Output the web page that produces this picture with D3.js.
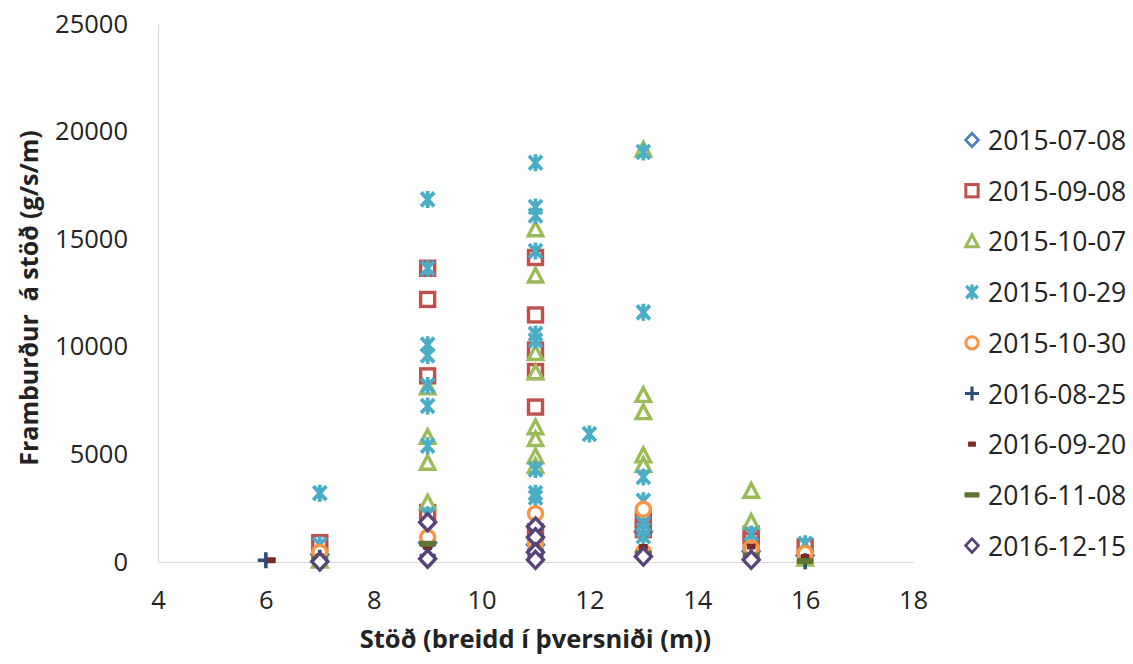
<!DOCTYPE html>
<html>
<head>
<meta charset="utf-8">
<script src="https://cdn.jsdelivr.net/npm/d3@7"></script>
<style>
  html, body { margin: 0; padding: 0; background: #ffffff; }
  svg { display: block; font-family: "Open Sans", "Noto Sans", sans-serif; }
</style>
</head>
<body>
<svg id="chart" width="1133" height="664"></svg>
<script>
// Sediment transport per station across the channel, one series per survey date
const seriesNames = ["2015-07-08", "2015-09-08", "2015-10-07", "2015-10-29", "2015-10-30",
                     "2016-08-25", "2016-09-20", "2016-11-08", "2016-12-15"];
const seriesColors = ["#4F81BD", "#C0504D", "#9BBB59", "#4BACC6", "#F79646",
                      "#2C4D75", "#772C2A", "#5F7530", "#574377"];
const seriesMarkers = ["diamond", "square", "triangle", "star", "circle",
                       "plus", "dash", "longdash", "diamond"];

// [station (m), transport (g/s/m)]
const d20150708 = [[7, 350], [9, 900], [11, 800], [13, 1400], [15, 500], [16, 300]];
const d20150908 = [[7, 900], [9, 13650], [9, 12200], [9, 8650], [9, 2300],
                   [11, 14150], [11, 11480], [11, 9850], [11, 8850], [11, 7200], [11, 1400],
                   [13, 2000], [13, 1500], [15, 1300], [15, 1000], [16, 700]];
const d20151007 = [[7, 50], [9, 8100], [9, 5800], [9, 4600], [9, 2750],
                   [11, 15450], [11, 13300], [11, 9700], [11, 8800], [11, 6250], [11, 5700],
                   [11, 4900], [11, 4450], [13, 19150], [13, 7750], [13, 6950], [13, 4950],
                   [13, 4500], [15, 3300], [15, 1850], [16, 150]];
const d20151029 = [[7, 3200], [7, 800], [9, 16850], [9, 13650], [9, 10100], [9, 9600],
                   [9, 8200], [9, 7250], [9, 5400], [9, 2200],
                   [11, 18550], [11, 16500], [11, 16100], [11, 14450], [11, 10600], [11, 10300],
                   [11, 4300], [11, 3200], [11, 3000], [12, 5950],
                   [13, 19050], [13, 11600], [13, 3950], [13, 2850], [13, 1800], [13, 1500],
                   [13, 1200], [15, 1300], [16, 850]];
const d20151030 = [[7, 450], [9, 1150], [11, 2250], [11, 900], [13, 2450], [13, 450],
                   [15, 650], [16, 400]];
const d20160825 = [[6, 80], [7, 200], [9, 300], [11, 300], [13, 300], [15, 200], [16, 30]];
const d20160920 = [[6.1, 80], [7, 250], [9, 700], [11, 700], [13, 700], [15, 720], [16, 230]];
const d20161108 = [[7, 150], [9, 850], [11, 500], [13, 400], [15, 300], [16, 50]];
const d20161215 = [[7, 20], [9, 1850], [9, 150], [11, 1650], [11, 1150], [11, 450], [11, 100],
                   [13, 250], [15, 100]];

const seriesData = [d20150708, d20150908, d20151007, d20151029, d20151030,
                    d20160825, d20160920, d20161108, d20161215];

const xTicks = [4, 6, 8, 10, 12, 14, 16, 18];
const yTicks = [0, 5000, 10000, 15000, 20000, 25000];

const xTitle = "Stöð (breidd í þversniði (m))";
const yTitle = "Framburður  á stöð (g/s/m)";

const svg = d3.select("#chart");

const plot = { left: 158, right: 913, top: 24, bottom: 562 };

const x = d3.scaleLinear().domain([4, 18]).range([plot.left, plot.right]);
const y = d3.scaleLinear().domain([0, 25000]).range([plot.bottom, plot.top]);

// Axes: thin grey lines, no tick marks
const xAxis = d3.axisBottom(x).tickValues(xTicks).tickSize(0).tickPadding(29);
const yAxis = d3.axisLeft(y).tickValues(yTicks).tickSize(0).tickPadding(30).tickFormat(d3.format("d"));

const gx = svg.append("g").attr("transform", `translate(0,${plot.bottom})`).call(xAxis);
const gy = svg.append("g").attr("transform", `translate(${plot.left},0)`).call(yAxis);

[gx, gy].forEach(g => {
  g.select(".domain").attr("stroke", "#d9d9d9").attr("stroke-width", 1);
  g.selectAll("text").attr("font-size", 25.5).attr("fill", "#222").attr("font-family", "'Open Sans', sans-serif");
});
gx.selectAll("text").attr("dy", "0.71em");

// Axis titles
svg.append("text")
  .attr("x", (plot.left + plot.right) / 2)
  .attr("y", 641)
  .attr("text-anchor", "middle")
  .attr("dominant-baseline", "middle")
  .attr("font-size", 25.5)
  .attr("font-weight", "bold")
  .attr("fill", "#222")
  .text(xTitle);

svg.append("text")
  .attr("transform", `translate(31,${298}) rotate(-90)`)
  .attr("text-anchor", "middle")
  .attr("dominant-baseline", "middle")
  .attr("font-size", 25)
  .attr("font-weight", "bold")
  .attr("fill", "#222")
  .style("white-space", "pre")
  .text(yTitle);

// Marker shapes drawn around (0,0)
function drawMarker(g, type, color) {
  switch (type) {
    case "diamond":
      g.append("path").attr("d", "M0,-8.5 L8,0 L0,8.5 L-8,0 Z")
        .attr("fill", "#fff").attr("stroke", color).attr("stroke-width", 3.4);
      break;
    case "square":
      g.append("rect").attr("x", -7).attr("y", -7).attr("width", 14).attr("height", 14)
        .attr("fill", "#fff").attr("stroke", color).attr("stroke-width", 3.4);
      break;
    case "triangle":
      g.append("path").attr("d", "M0,-7.5 L7.2,6.2 L-7.2,6.2 Z")
        .attr("fill", "#fff").attr("stroke", color).attr("stroke-width", 3.4)
        .attr("stroke-linejoin", "miter");
      break;
    case "circle":
      g.append("circle").attr("r", 7)
        .attr("fill", "#fff").attr("stroke", color).attr("stroke-width", 3.4);
      break;
    case "star":
      g.append("path").attr("d", "M-6.5,-7 L6.5,7 M6.5,-7 L-6.5,7 M0,-8.5 L0,8.5")
        .attr("fill", "none").attr("stroke", color).attr("stroke-width", 3.8);
      break;
    case "plus":
      g.append("path").attr("d", "M-8,0 L8,0 M0,-8 L0,8")
        .attr("fill", "none").attr("stroke", color).attr("stroke-width", 3.6);
      break;
    case "dash":
      g.append("rect").attr("x", -4.5).attr("y", -3).attr("width", 9).attr("height", 6)
        .attr("rx", 1).attr("fill", color);
      break;
    case "longdash":
      g.append("rect").attr("x", -8.5).attr("y", -3).attr("width", 17).attr("height", 6)
        .attr("rx", 1).attr("fill", color);
      break;
  }
}

// Points, series drawn in order so later dates sit on top
const marks = svg.append("g");
seriesData.forEach((pts, i) => {
  const sg = marks.append("g").attr("class", "series");
  pts.forEach(p => {
    const mg = sg.append("g").attr("transform", `translate(${x(p[0])},${y(p[1])})`);
    drawMarker(mg, seriesMarkers[i], seriesColors[i]);
  });
});

// Legend
const legend = svg.append("g").attr("transform", "translate(972,140)");
seriesNames.forEach((name, i) => {
  const row = legend.append("g").attr("transform", `translate(0,${i * 50.7})`);
  const mg = row.append("g").attr("transform", i === 0 || i === 8 ? "scale(0.8)" : "scale(0.88)");
  drawMarker(mg, seriesMarkers[i], seriesColors[i]);
  row.append("text")
    .attr("x", 16)
    .attr("y", 0)
    .attr("dominant-baseline", "central")
    .attr("font-size", 26.5)
    .attr("fill", "#222")
    .text(name);
});
</script>
</body>
</html>
